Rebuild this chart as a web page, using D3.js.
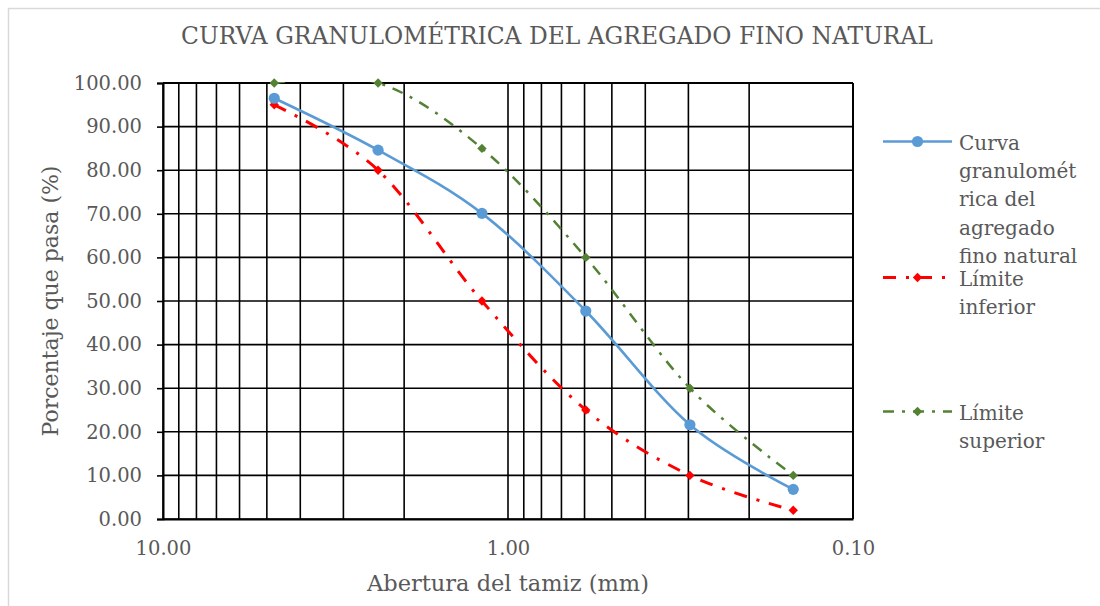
<!DOCTYPE html>
<html>
<head>
<meta charset="utf-8">
<script src="https://cdn.jsdelivr.net/npm/d3@7"></script>
<style>
  html, body { margin: 0; padding: 0; background: #fff; }
  svg { display: block; }
  text { font-family: "DejaVu Serif", "Liberation Serif", serif; fill: #595959; }
</style>
</head>
<body>
<svg id="chart" width="1100" height="606"></svg>
<script>
// ---------------- DATA ----------------
const titleText = "CURVA GRANULOMÉTRICA DEL AGREGADO FINO NATURAL";
const xTitle = "Abertura del tamiz (mm)";
const yTitle = "Porcentaje que pasa (%)";
const sieveSizes = [4.76, 2.38, 1.19, 0.595, 0.297, 0.149];   // mm
const curvaValues = [96.5, 84.6, 70.1, 47.7, 21.6, 6.8];       // % passing
const limiteInferior = [95, 80, 50, 25, 10, 2];
const limiteSuperior = [100, 100, 85, 60, 30, 10];
const xTickValues = [10, 1, 0.1];
const yTickValues = [0, 10, 20, 30, 40, 50, 60, 70, 80, 90, 100];
const seriesNames = [
  ["Curva", "granulomét", "rica del", "agregado", "fino natural"],
  ["Límite", "inferior"],
  ["Límite", "superior"]
];

// ---------------- LAYOUT ----------------
const svg = d3.select("#chart");
const plot = { left: 163, right: 853, top: 83, bottom: 519 };

svg.append("rect")
  .attr("x", 8.5).attr("y", 8.5).attr("width", 1200).attr("height", 800)
  .attr("fill", "#fff").attr("stroke", "#d9d9d9").attr("stroke-width", 1.5);

svg.append("defs").append("clipPath").attr("id", "clipTop")
  .append("rect").attr("x", 0).attr("y", plot.top - 1).attr("width", 1100).attr("height", 600);

const x = d3.scaleLog().domain([10, 0.1]).range([plot.left, plot.right]);
const y = d3.scaleLinear().domain([0, 100]).range([plot.bottom, plot.top]);

// Title
svg.append("text")
  .attr("x", 557).attr("y", 44)
  .attr("text-anchor", "middle")
  .style("font-size", "23.4px")
  .text(titleText);

// Gridlines
const grid = svg.append("g").attr("stroke", "#000").attr("stroke-width", 1.6);
grid.selectAll("line.v").data(x.ticks()).join("line")
  .attr("x1", d => x(d)).attr("x2", d => x(d))
  .attr("y1", plot.top).attr("y2", plot.bottom);
grid.selectAll("line.h").data(yTickValues).join("line")
  .attr("x1", plot.left).attr("x2", plot.right)
  .attr("y1", d => y(d)).attr("y2", d => y(d));

// Axes
const yAxis = svg.append("g")
  .attr("transform", `translate(${plot.left},0)`)
  .call(d3.axisLeft(y).tickValues(yTickValues).tickFormat(d3.format(".2f")).tickSize(6).tickPadding(15));
yAxis.select(".domain").attr("stroke", "#000").attr("stroke-width", 2);
yAxis.selectAll(".tick line").attr("stroke", "#000").attr("stroke-width", 1.6);
yAxis.selectAll(".tick text")
  .style("font-size", "19.5px").style("font-family", "DejaVu Serif").attr("fill", "#595959");

const xAxis = svg.append("g")
  .attr("transform", `translate(0,${plot.bottom})`)
  .call(d3.axisBottom(x).tickValues(xTickValues).tickFormat(d3.format(".2f")).tickSize(0).tickPadding(22));
xAxis.select(".domain").attr("stroke", "#000").attr("stroke-width", 2);
xAxis.selectAll(".tick text")
  .style("font-size", "19.5px").style("font-family", "DejaVu Serif").attr("fill", "#595959");

// Plot frame (right & top)
svg.append("line").attr("x1", plot.right).attr("x2", plot.right)
  .attr("y1", plot.top).attr("y2", plot.bottom).attr("stroke", "#000").attr("stroke-width", 2);
svg.append("line").attr("x1", plot.left).attr("x2", plot.right)
  .attr("y1", plot.top).attr("y2", plot.top).attr("stroke", "#000").attr("stroke-width", 2);

// Axis titles
svg.append("text")
  .attr("x", (plot.left + plot.right) / 2).attr("y", 591)
  .attr("text-anchor", "middle").style("font-size", "22.5px")
  .text(xTitle);
svg.append("text")
  .attr("transform", `translate(58,${(plot.top + plot.bottom) / 2}) rotate(-90)`)
  .attr("text-anchor", "middle").style("font-size", "22px")
  .text(yTitle);

// Series
const curve = d3.curveCardinal.tension(0);
const line = d3.line().x(d => x(d[0])).y(d => y(d[1])).curve(curve);
const diamond = d3.symbol().type(d3.symbolSquare).size(44);

const series = [
  { name: seriesNames[0], values: curvaValues, color: "#5b9bd5", width: 2.6, dash: null, marker: "circle" },
  { name: seriesNames[1], values: limiteInferior, color: "#ff0000", width: 3, dash: "13,10,3,10", marker: "diamond" },
  { name: seriesNames[2], values: limiteSuperior, color: "#548235", width: 2.5, dash: "11,8,3,8", marker: "diamond" }
];

[series[2], series[1], series[0]].forEach(s => {
  const pts = sieveSizes.map((d, i) => [d, s.values[i]]);
  svg.append("path").datum(pts)
    .attr("d", line).attr("fill", "none")
    .attr("clip-path", "url(#clipTop)")
    .attr("stroke", s.color).attr("stroke-width", s.width)
    .attr("stroke-dasharray", s.dash);
  const g = svg.append("g");
  if (s.marker === "circle") {
    g.selectAll("circle").data(pts).join("circle")
      .attr("cx", d => x(d[0])).attr("cy", d => y(d[1])).attr("r", 5.6)
      .attr("fill", s.color);
  } else {
    g.selectAll("path").data(pts).join("path")
      .attr("d", diamond)
      .attr("transform", d => `translate(${x(d[0])},${y(d[1])}) rotate(45)`)
      .attr("fill", s.color);
  }
});

// Legend
const legendBaselines = [150, 286, 420];
const lineH = 28.2;
series.forEach((s, i) => {
  const g = svg.append("g");
  const my = legendBaselines[i] - 8.5;
  g.append("line").attr("x1", 883).attr("x2", 952).attr("y1", my).attr("y2", my)
    .attr("stroke", s.color).attr("stroke-width", s.width).attr("stroke-dasharray", s.dash);
  if (s.marker === "circle") {
    g.append("circle").attr("cx", 917.5).attr("cy", my).attr("r", 5.6).attr("fill", s.color);
  } else {
    g.append("path").attr("d", diamond)
      .attr("transform", `translate(917.5,${my}) rotate(45)`).attr("fill", s.color);
  }
  const t = g.append("text").attr("x", 959).attr("y", legendBaselines[i]).style("font-size", "20px");
  s.name.forEach((ln, j) => {
    t.append("tspan").attr("x", 959).attr("y", legendBaselines[i] + j * lineH).text(ln);
  });
});
</script>
</body>
</html>
